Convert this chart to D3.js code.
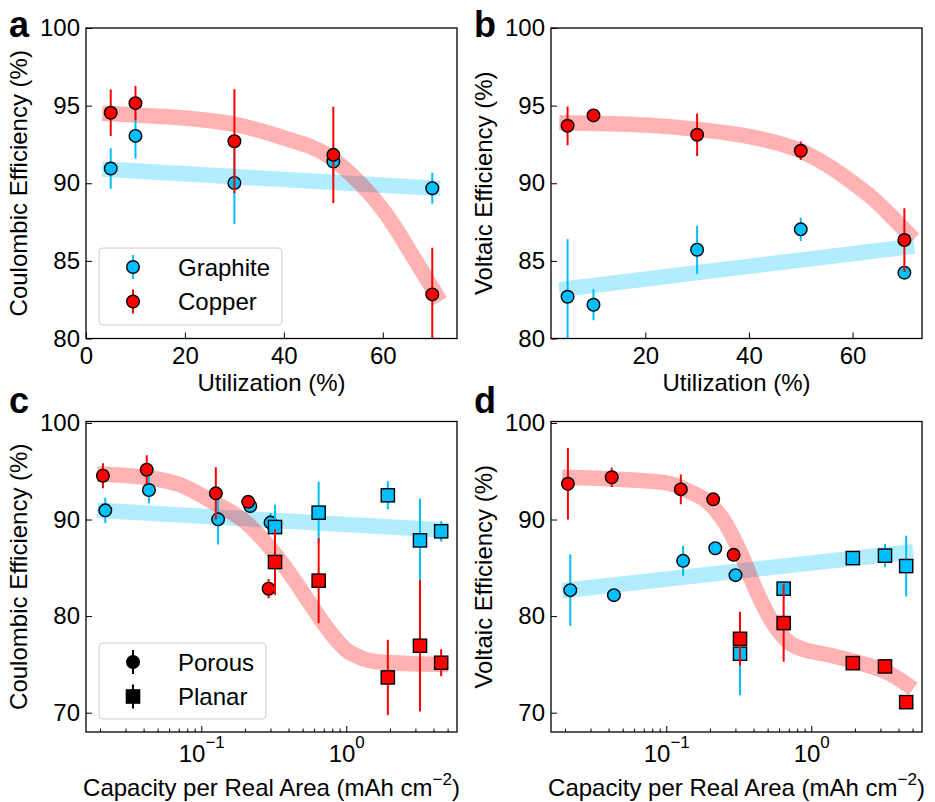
<!DOCTYPE html>
<html>
<head>
<meta charset="utf-8">
<script src="https://cdn.jsdelivr.net/npm/d3@7"></script>
<style>
body { margin: 0; background: #fff; }
svg text { font-family: "Liberation Sans", Arial, sans-serif; }
</style>
</head>
<body>
<svg id="fig" width="935" height="802"></svg>
<script>
// ---- data ----
var utilization = [5, 10, 30, 50, 70];
var capPorousGraphite = [0.0216, 0.0432, 0.1296, 0.216, 0.298];
var capPorousCopper = [0.0208, 0.0417, 0.125, 0.209, 0.289];
var capPlanar = [0.32, 0.64, 1.92, 3.2, 4.48];

// coulombic efficiency, porous electrodes
var graphiteCE = [90.95, 93.05, 90.02, 91.4, 89.68];
var copperCE = [94.54, 95.16, 92.71, 91.83, 82.84];
var graphiteCEErrA = [1.3, 1.45, 2.65, 1.0, 1.0];
var copperCEErrA = [1.5, 1.1, 3.35, 3.1, 3.0];
var graphiteCEErrC = [1.3, 1.4, 2.6, 0.4, 1.0];
var copperCEErrC = [1.3, 1.5, 2.7, 0.3, 1.0];

// voltaic efficiency, porous electrodes
var graphiteVE = [82.69, 82.17, 85.72, 87.03, 84.24];
var copperVE = [93.7, 94.37, 93.12, 92.09, 86.34];
var graphiteVEErrB = [3.7, 1.0, 1.55, 0.75, 0.3];
var copperVEErrB = [1.25, 0.2, 1.37, 0.6, 2.05];
var graphiteVEErrD = [3.7, 0.5, 1.55, 0.3, 0.3];
var copperVEErrD = [3.7, 1.0, 1.55, 0.3, 0.3];

// planar electrodes
var planarGraphiteCE = [89.22, 90.71, 92.51, 87.84, 88.78];
var planarGraphiteCEErr = [2.3, 3.2, 1.45, 4.35, 1.05];
var planarCopperCE = [85.6, 83.67, 73.65, 76.93, 75.17];
var planarCopperCEErr = [3.4, 4.4, 3.9, 6.8, 1.4];
var planarGraphiteVE = [76.1, 82.84, 86.01, 86.26, 85.18];
var planarGraphiteVEErr = [4.3, 0.3, 0.3, 1.2, 3.15];
var planarCopperVE = [77.65, 79.28, 75.13, 74.79, 71.09];
var planarCopperVEErr = [2.8, 4.0, 0.3, 0.3, 0.3];

// fitted guide curves, [x, y] read along the band centre
var fitGraphiteA = [[3.3, 90.92], [71.6, 89.66]];
var fitCopperA = [[3.3, 94.5], [10, 94.4], [20, 94.2], [29.1, 93.85], [39.2, 93.0], [49.3, 91.7],
                  [55.4, 90.0], [60.7, 88.0], [65.5, 85.6], [71.6, 82.4]];
var fitGraphiteB = [[3.4, 83.15], [71.9, 85.95]];
var fitCopperB = [[3.4, 93.9], [20, 93.75], [30.6, 93.45], [40.2, 93.0], [49.9, 92.1], [55.7, 91.05],
                  [60, 90.05], [64, 89.0], [68, 87.7], [71.8, 86.4]];
var fitGraphiteC = [[0.019, 90.95], [5.0, 88.9]];
var fitCopperC = [[0.019, 94.72], [0.0417, 94.34], [0.0708, 93.6], [0.12, 91.8], [0.204, 89.64],
                  [0.347, 85.77], [0.452, 83.36], [0.589, 80.77], [0.767, 78.35], [1.0, 76.45],
                  [1.3, 75.59], [1.7, 75.24], [2.88, 75.07], [5.0, 75.0]];
var fitGraphiteD = [[0.019, 82.63], [5.0, 86.67]];
var fitCopperD = [[0.019, 94.37], [0.0417, 94.2], [0.1, 93.8], [0.145, 92.85], [0.189, 91.92],
                  [0.246, 89.92], [0.321, 86.63], [0.418, 82.49], [0.544, 79.2], [0.708, 77.2],
                  [0.924, 76.45], [1.2, 76.1], [2.04, 75.24], [3.47, 74.03], [5.0, 72.47]];

var BLUE = "#00bfff", RED = "#ff0000";
var W = 371, H = 310.5;
var svg = d3.select("#fig");

function zip(xs, ys, es) {
    return xs.map(function (d, i) { return {x: d, y: ys[i], e: es[i]}; });
}

function drawPanel(cfg) {
    var x = (cfg.log ? d3.scaleLog() : d3.scaleLinear())
        .domain(cfg.xlim).range([cfg.left, cfg.left + W]);
    var y = d3.scaleLinear().domain(cfg.ylim).range([cfg.top + H, cfg.top]);

    svg.append("clipPath").attr("id", "clip-" + cfg.id)
        .append("rect").attr("x", cfg.left).attr("y", cfg.top).attr("width", W).attr("height", H);

    var plot = svg.append("g").attr("clip-path", "url(#clip-" + cfg.id + ")");

    // wide translucent guide bands
    var line = d3.line()
        .x(function (d) { return x(d[0]); })
        .y(function (d) { return y(d[1]); })
        .curve(d3.curveMonotoneX);
    cfg.fits.forEach(function (f) {
        plot.append("path").attr("d", line(f.pts))
            .attr("fill", "none").attr("stroke", f.color)
            .attr("stroke-opacity", 0.3).attr("stroke-width", 15.5);
    });

    // error bars then markers, series after series
    cfg.series.forEach(function (s) {
        var grp = plot.append("g");
        grp.selectAll("line").data(s.data).enter().append("line")
            .attr("x1", function (d) { return x(d.x); })
            .attr("x2", function (d) { return x(d.x); })
            .attr("y1", function (d) { return y(d.y - d.e); })
            .attr("y2", function (d) { return y(d.y + d.e); })
            .attr("stroke", s.color).attr("stroke-width", 2);
        if (s.shape == "circle") {
            grp.selectAll("circle").data(s.data).enter().append("circle")
                .attr("cx", function (d) { return x(d.x); })
                .attr("cy", function (d) { return y(d.y); })
                .attr("r", 6.3)
                .attr("fill", s.color).attr("stroke", "#000").attr("stroke-width", 1.4);
        } else {
            grp.selectAll("rect").data(s.data).enter().append("rect")
                .attr("x", function (d) { return x(d.x) - 6.6; })
                .attr("y", function (d) { return y(d.y) - 6.6; })
                .attr("width", 13.2).attr("height", 13.2)
                .attr("fill", s.color).attr("stroke", "#000").attr("stroke-width", 1.4);
        }
    });

    // axes, ticks pointing in
    var xAxis = svg.append("g").attr("transform", "translate(0," + (cfg.top + H) + ")")
        .attr("font-size", 24).attr("font-family", "Liberation Sans, Arial, sans-serif");
    if (cfg.log) {
        var ticks = x.ticks();
        ticks.forEach(function (t) {
            var major = Math.abs(Math.log10(t) - Math.round(Math.log10(t))) < 1e-9;
            xAxis.append("line").attr("x1", x(t)).attr("x2", x(t))
                .attr("y1", 0).attr("y2", major ? -6 : -3.5)
                .attr("stroke", "#000").attr("stroke-width", 1);
            if (major) {
                var txt = xAxis.append("text").attr("x", x(t)).attr("y", 30)
                    .attr("text-anchor", "middle").attr("fill", "#000");
                txt.append("tspan").text("10");
                txt.append("tspan").attr("dy", -14).attr("font-size", 17)
                    .text(String(Math.round(Math.log10(t))).replace("-", "\u2212"));
            }
        });
    } else {
        xAxis.call(d3.axisBottom(x).tickValues(cfg.xticks).tickSize(-6).tickPadding(8)
            .tickFormat(d3.format("d")));
    }
    var yAxis = svg.append("g").attr("transform", "translate(" + cfg.left + ",0)")
        .attr("font-size", 24).attr("font-family", "Liberation Sans, Arial, sans-serif");
    yAxis.call(d3.axisLeft(y).tickValues(cfg.yticks).tickSize(-6).tickPadding(6)
        .tickFormat(d3.format("d")));
    svg.selectAll(".domain").remove();
    svg.selectAll(".tick text").attr("fill", "#000").attr("font-size", 24);
    svg.selectAll(".tick line").attr("stroke", "#000");

    svg.append("rect").attr("x", cfg.left).attr("y", cfg.top).attr("width", W).attr("height", H)
        .attr("fill", "none").attr("stroke", "#000").attr("stroke-width", 1.3);

    // labels
    var xl = svg.append("text").attr("x", cfg.left + W / 2).attr("y", cfg.top + H + cfg.xlabelDy)
        .attr("text-anchor", "middle").attr("font-size", 24);
    if (cfg.log) {
        xl.append("tspan").text("Capacity per Real Area (mAh cm");
        xl.append("tspan").attr("dy", -11).attr("font-size", 17).text("\u22122");
        xl.append("tspan").attr("dy", 11).text(")");
    } else {
        xl.text(cfg.xlabel);
    }
    svg.append("text")
        .attr("transform", "translate(" + (cfg.left - 59) + "," + (cfg.top + H / 2) + ") rotate(-90)")
        .attr("text-anchor", "middle").attr("font-size", 24).text(cfg.ylabel);
    svg.append("text").attr("x", cfg.left - 77).attr("y", cfg.top + cfg.letterDy)
        .attr("font-size", 36).attr("font-weight", "bold").text(cfg.id);

    if (cfg.legend) drawLegend(cfg.legend);
}

function drawLegend(lg) {
    var g = svg.append("g");
    g.append("rect").attr("x", lg.x).attr("y", lg.y).attr("width", lg.w).attr("height", lg.h)
        .attr("rx", 4).attr("fill", "#fff").attr("fill-opacity", 0.8)
        .attr("stroke", "#cccccc").attr("stroke-width", 1);
    lg.items.forEach(function (it, i) {
        var cy = lg.y + 19 + i * 34.5, cx = lg.x + 34;
        g.append("line").attr("x1", cx).attr("x2", cx).attr("y1", cy - 12).attr("y2", cy + 12)
            .attr("stroke", it.color).attr("stroke-width", 2);
        if (it.shape == "circle") {
            g.append("circle").attr("cx", cx).attr("cy", cy).attr("r", 6.3)
                .attr("fill", it.color).attr("stroke", "#000").attr("stroke-width", 1.4);
        } else {
            g.append("rect").attr("x", cx - 6.6).attr("y", cy - 6.6).attr("width", 13.2).attr("height", 13.2)
                .attr("fill", it.color).attr("stroke", "#000").attr("stroke-width", 1.4);
        }
        g.append("text").attr("x", lg.x + 79).attr("y", cy + 8.5).attr("font-size", 24).text(it.label);
    });
}

drawPanel({
    id: "a", left: 86, top: 28, xlim: [0, 75], ylim: [80, 100],
    xticks: [0, 20, 40, 60], yticks: [80, 85, 90, 95, 100],
    xlabel: "Utilization (%)", ylabel: "Coulombic Efficiency (%)", xlabelDy: 52.5, letterDy: 9,
    fits: [{pts: fitGraphiteA, color: BLUE}, {pts: fitCopperA, color: RED}],
    series: [
        {data: zip(utilization, graphiteCE, graphiteCEErrA), color: BLUE, shape: "circle"},
        {data: zip(utilization, copperCE, copperCEErrA), color: RED, shape: "circle"}
    ],
    legend: {x: 99, y: 248, w: 183, h: 77, items: [
        {label: "Graphite", color: BLUE, shape: "circle"},
        {label: "Copper", color: RED, shape: "circle"}
    ]}
});

drawPanel({
    id: "b", left: 551, top: 28, xlim: [1.8, 73.4], ylim: [80, 100],
    xticks: [20, 40, 60], yticks: [80, 85, 90, 95, 100],
    xlabel: "Utilization (%)", ylabel: "Voltaic Efficiency (%)", xlabelDy: 52.5, letterDy: 9,
    fits: [{pts: fitGraphiteB, color: BLUE}, {pts: fitCopperB, color: RED}],
    series: [
        {data: zip(utilization, graphiteVE, graphiteVEErrB), color: BLUE, shape: "circle"},
        {data: zip(utilization, copperVE, copperVEErrB), color: RED, shape: "circle"}
    ]
});

drawPanel({
    id: "c", left: 86, top: 421.5, log: true, xlim: [0.0159, 5.76], ylim: [68, 100.15],
    yticks: [70, 80, 90, 100],
    ylabel: "Coulombic Efficiency (%)", xlabelDy: 64, letterDy: -9,
    fits: [{pts: fitGraphiteC, color: BLUE}, {pts: fitCopperC, color: RED}],
    series: [
        {data: zip(capPorousGraphite, graphiteCE, graphiteCEErrC), color: BLUE, shape: "circle"},
        {data: zip(capPorousCopper, copperCE, copperCEErrC), color: RED, shape: "circle"},
        {data: zip(capPlanar, planarGraphiteCE, planarGraphiteCEErr), color: BLUE, shape: "square"},
        {data: zip(capPlanar, planarCopperCE, planarCopperCEErr), color: RED, shape: "square"}
    ],
    legend: {x: 99, y: 643, w: 167, h: 76, items: [
        {label: "Porous", color: "#000", shape: "circle"},
        {label: "Planar", color: "#000", shape: "square"}
    ]}
});

drawPanel({
    id: "d", left: 551, top: 421.5, log: true, xlim: [0.0159, 5.76], ylim: [68, 100.15],
    yticks: [70, 80, 90, 100],
    ylabel: "Voltaic Efficiency (%)", xlabelDy: 64, letterDy: -9,
    fits: [{pts: fitGraphiteD, color: BLUE}, {pts: fitCopperD, color: RED}],
    series: [
        {data: zip(capPorousGraphite, graphiteVE, graphiteVEErrD), color: BLUE, shape: "circle"},
        {data: zip(capPorousCopper, copperVE, copperVEErrD), color: RED, shape: "circle"},
        {data: zip(capPlanar, planarGraphiteVE, planarGraphiteVEErr), color: BLUE, shape: "square"},
        {data: zip(capPlanar, planarCopperVE, planarCopperVEErr), color: RED, shape: "square"}
    ]
});
</script>
</body>
</html>
